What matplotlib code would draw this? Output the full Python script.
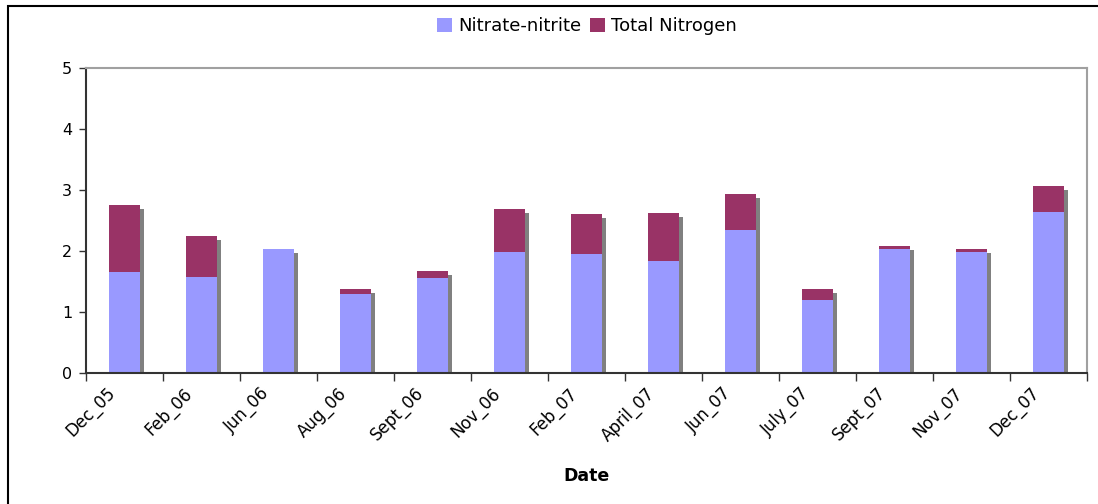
import matplotlib
matplotlib.use("Agg")
import matplotlib.pyplot as plt
import matplotlib.transforms as mtransforms
from matplotlib.patches import Rectangle
import numpy as np

dates = ["Dec_05", "Feb_06", "Jun_06", "Aug_06", "Sept_06", "Nov_06", "Feb_07",
         "April_07", "Jun_07", "July_07", "Sept_07", "Nov_07", "Dec_07"]
nitrate_nitrite = [1.65, 1.57, 2.04, 1.30, 1.55, 1.98, 1.95, 1.83, 2.34, 1.19, 2.03, 1.99, 2.64]
total_nitrogen = [2.75, 2.24, 2.04, 1.37, 1.67, 2.69, 2.60, 2.62, 2.93, 1.37, 2.09, 2.04, 3.06]

plt.rcParams["font.family"] = "DejaVu Sans"

fig = plt.figure(figsize=(10.98, 5.04), dpi=100)
W, H = 1098, 504
ax = fig.add_axes([86 / W, (H - 373) / H, (1087 - 86) / W, (373 - 68) / H])

x = np.arange(len(dates))
nn = np.array(nitrate_nitrite)
tn = np.array(total_nitrogen)
width = 0.415

# gray drop shadow behind each stacked bar
shadow = mtransforms.offset_copy(ax.transData, fig=fig, x=4, y=-4, units="dots")
ax.bar(x, tn, width, color="#808080", transform=shadow, zorder=1)

ax.bar(x, nn, width, color="#9999FF", label="Nitrate-nitrite", zorder=2)
ax.bar(x, tn - nn, width, bottom=nn, color="#993366", label="Total Nitrogen", zorder=2)

ax.set_xlim(-0.5, len(dates) - 0.5)
ax.set_ylim(0, 5)

ax.set_yticks(range(6))
ax.tick_params(axis="y", direction="out", length=5, width=1, color="#333333",
               labelsize=11.5, pad=5)

ax.set_xticks(np.arange(len(dates) + 1) - 0.5)
ax.set_xticklabels([])
ax.tick_params(axis="x", which="major", direction="out", length=6, width=1, color="#333333")
ax.set_xticks(x, minor=True)
ax.set_xticklabels(dates, minor=True, rotation=45, ha="right", va="top",
                   rotation_mode="anchor", fontsize=12)
ax.tick_params(axis="x", which="minor", length=0, pad=8)
shift = mtransforms.ScaledTranslation(-18 / 100, 0, fig.dpi_scale_trans)
for lab in ax.get_xticklabels(minor=True):
    lab.set_transform(lab.get_transform() + shift)

for s in ["left", "bottom"]:
    ax.spines[s].set_color("#333333")
    ax.spines[s].set_linewidth(1.5)
for s in ["top", "right"]:
    ax.spines[s].set_color("#A0A0A0")
    ax.spines[s].set_linewidth(1.5)

fig.text(586.5 / W, 1 - 476 / H, "Date", ha="center", va="center",
         fontsize=12.5, fontweight="bold")

fig.legend(loc="center", bbox_to_anchor=(587 / W, 1 - 26 / H), ncol=2, frameon=False,
           fontsize=13, handlelength=0.8, handleheight=0.8, handletextpad=0.35,
           columnspacing=0.5, borderpad=0)

# outer chart border (only left and top edges fall inside the image)
fig.patches.append(Rectangle((8 / W, -0.1), 1.2, 1 - 6 / H + 0.1, transform=fig.transFigure,
                             fill=False, edgecolor="black", linewidth=1.5))

fig.savefig("out.png", dpi=100)
